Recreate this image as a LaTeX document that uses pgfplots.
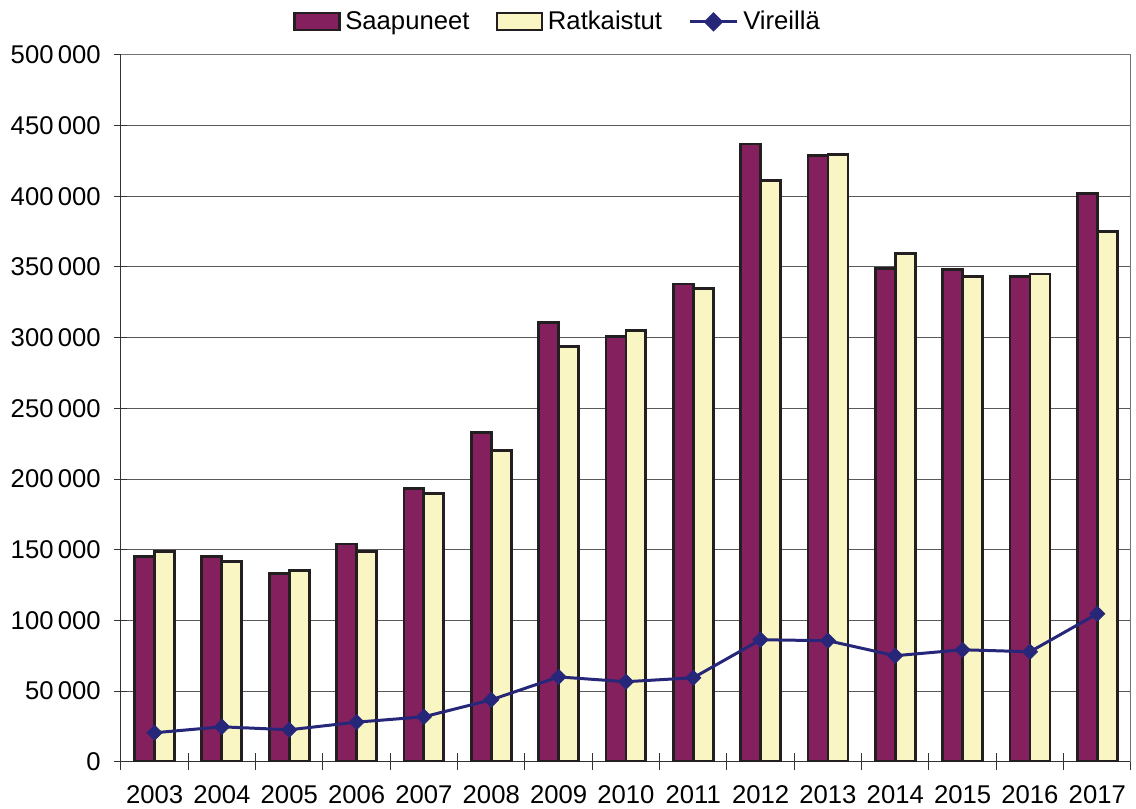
\documentclass[border=0pt]{standalone}
\usepackage{pgfplots}
\pgfplotsset{compat=1.18}
\usepackage{fontspec}
\setmainfont{Liberation Sans}
\definecolor{saap}{HTML}{84205E}
\definecolor{ratk}{HTML}{FAF6C3}
\definecolor{vire}{HTML}{27277A}
\definecolor{edge}{HTML}{231F20}

\pgfplotstableread{
x  year saap   ratk   vire
0  2003 145000 148500 20500
1  2004 145000 141400 24700
2  2005 133000 135000 22600
3  2006 154000 149000 28000
4  2007 193000 190000 31800
5  2008 232700 220000 43800
6  2009 310500 293500 60000
7  2010 300600 304800 56600
8  2011 338000 335000 59400
9  2012 437000 411000 86300
10 2013 428600 429300 85600
11 2014 348700 359300 75000
12 2015 348000 343000 79200
13 2016 343000 345000 77800
14 2017 401700 374800 104700
}\data

\begin{document}
\begin{tikzpicture}
\begin{axis}[
  scale only axis,
  width=421pt, height=294.6pt,
  xmin=-0.5, xmax=14.5,
  ymin=0, ymax=500000,
  ytick={0,50000,100000,150000,200000,250000,300000,350000,400000,450000,500000},
  yticklabels={0,50\,000,100\,000,150\,000,200\,000,250\,000,300\,000,350\,000,400\,000,450\,000,500\,000},
  scaled y ticks=false,
  xtick={0,...,14},
  xticklabels={2003,2004,2005,2006,2007,2008,2009,2010,2011,2012,2013,2014,2015,2016,2017},
  minor xtick={-0.5,0.5,...,14.5},
  major x tick style={draw=none},
  minor x tick style={black!80, thin},
  tick align=center,
  minor tick length=7pt,
  major tick length=5.4pt,
  y tick style={black!80, thin},
  xticklabel style={yshift=-3.6pt},
  yticklabel style={xshift=-2.2pt},
  ymajorgrids,
  grid style={black!65, thin},
  axis line style={black!80, thin},
  axis x line*=bottom,
  axis y line*=left,
  tick label style={font=\fontsize{10.7pt}{12.5pt}\selectfont},
  legend style={draw=none, at={(0.4337,1.0467)}, anchor=center,
    font=\fontsize{10.7pt}{12.5pt}\selectfont, legend columns=3,
    /tikz/every even column/.append style={column sep=9pt},
    inner sep=1pt},
]
\addplot[ybar, bar width=8.33pt, bar shift=-4.165pt, fill=saap, draw=edge, line width=1.2pt,
  legend image code/.code={\draw[fill=saap, draw=edge, line width=1pt] (0pt,-3.3pt) rectangle (18.7pt,3.7pt);}]
  table[x=x, y=saap]{\data};
\addlegendentry{Saapuneet}
\addplot[ybar, bar width=8.33pt, bar shift=4.165pt, fill=ratk, draw=edge, line width=1.2pt,
  legend image code/.code={\draw[fill=ratk, draw=edge, line width=1pt] (0pt,-3.3pt) rectangle (18.7pt,3.7pt);}]
  table[x=x, y=ratk]{\data};
\addlegendentry{Ratkaistut}
\addplot[vire, line width=1.25pt, mark=square*, mark size=2.2pt,
  mark options={fill=vire, draw=vire, rotate=45, line width=0.4pt},
  legend image code/.code={\draw[vire, line width=1.25pt] (0pt,0pt) -- (19.6pt,0pt); \fill[vire] (9.8pt,3.2pt) -- (13pt,0pt) -- (9.8pt,-3.2pt) -- (6.6pt,0pt) -- cycle;}]
  table[x=x, y=vire]{\data};
\addlegendentry{Vireillä}
\draw[black!55, thin] (rel axis cs:0,1) -- (rel axis cs:1,1) -- (rel axis cs:1,0);
\end{axis}
\pgfresetboundingbox
\path[use as bounding box] ([xshift=-50.4pt,yshift=-19.3pt]current axis.south west)
  rectangle ([xshift=2.1pt,yshift=22.9pt]current axis.north east);
\end{tikzpicture}
\end{document}
